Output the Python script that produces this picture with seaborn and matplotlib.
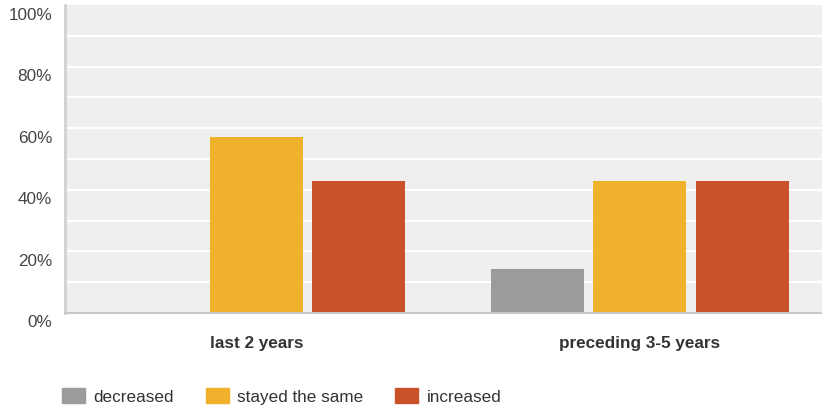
import matplotlib
matplotlib.use("Agg")
import matplotlib.pyplot as plt
import matplotlib.transforms as mtransforms
from matplotlib.patches import Patch
import seaborn as sns
import pandas as pd

periods = ["last 2 years", "preceding 3-5 years"]
changes = ["decreased", "stayed the same", "increased"]
decreased = [0.0, 14.3]
stayed_same = [57.1, 42.9]
increased = [42.9, 42.9]
yticks = [0, 20, 40, 60, 80, 100]
colors = ["#9b9b9b", "#f0b12c", "#c9522a"]

rows = []
for i, p in enumerate(periods):
    for c, vals in zip(changes, [decreased, stayed_same, increased]):
        rows.append({"period": p, "change": c, "value": vals[i]})
df = pd.DataFrame(rows)

sns.set_style("white")
plt.rcParams["font.family"] = ["Liberation Sans", "DejaVu Sans"]

FS = 12.3
W, H = 822, 410
fig = plt.figure(figsize=(W / 100, H / 100), dpi=100)
ax = fig.add_axes([65 / W, (H - 314) / H, (W - 65) / W, 308 / H])
ax.set_facecolor("#efefef")

sns.barplot(data=df, x="period", y="value", hue="change", order=periods,
            hue_order=changes, palette=colors, width=0.8, gap=0.09,
            saturation=1, ax=ax, legend=False, zorder=3, linewidth=0,
            edgecolor="none")

ax.set_xlim(-0.5, 1.475)
ax.set_ylim(0, 100)
for v in range(10, 100, 10):
    ax.axhline(v, color="white", lw=1.6, zorder=1)

ax.set_yticks(yticks)
ax.set_yticklabels([])
ax.tick_params(axis="y", length=0)
trans = mtransforms.blended_transform_factory(ax.transAxes, ax.transData) + \
    mtransforms.ScaledTranslation(-13 / 100, -9 / 100, fig.dpi_scale_trans)
for v in yticks:
    ax.text(0, v, f"{v}%", transform=trans, ha="right", va="center",
            fontsize=FS, color="#444444", clip_on=False)

ax.tick_params(axis="x", length=0, pad=16)
for lab in ax.get_xticklabels():
    lab.set_fontsize(FS)
    lab.set_fontweight("bold")
    lab.set_color("#333333")
ax.set_xlabel("")
ax.set_ylabel("")

for s in ["top", "right"]:
    ax.spines[s].set_visible(False)
ax.spines["left"].set_color("#d0d0d0")
ax.spines["left"].set_linewidth(2)
ax.spines["bottom"].set_color("#c8c8c8")
ax.spines["bottom"].set_linewidth(1.5)
ax.spines["left"].set_zorder(4)
ax.spines["bottom"].set_zorder(4)

handles = [Patch(facecolor=c, edgecolor=c, label=l) for c, l in zip(colors, changes)]
fig.legend(handles=handles, loc="center left", bbox_to_anchor=(62 / W, 13 / H),
           ncol=3, frameon=False, fontsize=FS, handlelength=1.35,
           handleheight=1.0, handletextpad=0.5, columnspacing=1.85,
           borderpad=0, borderaxespad=0, labelcolor="#333333")

fig.savefig("out.png", dpi=100)
